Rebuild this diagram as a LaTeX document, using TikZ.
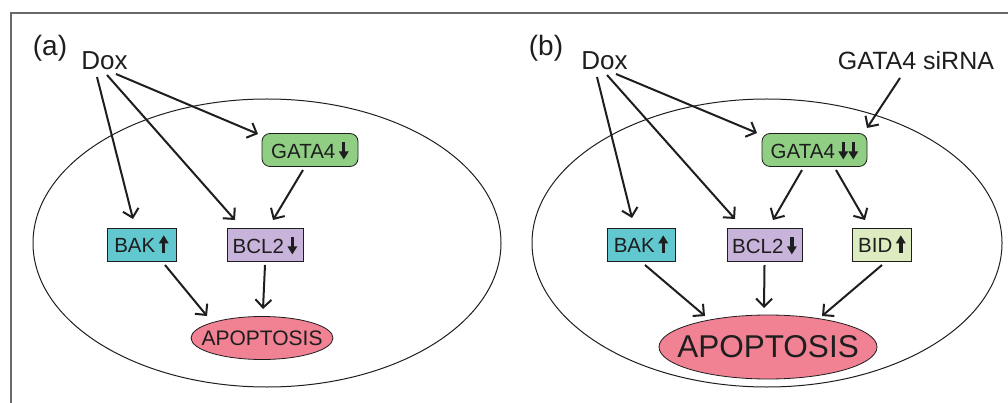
\documentclass[tikz,border=0pt]{standalone}
\usepackage{fontspec}
\setmainfont{Liberation Sans}
\usetikzlibrary{arrows.meta,shapes.geometric}
\definecolor{gatagreen}{RGB}{144,206,132}
\definecolor{bakcyan}{RGB}{98,200,208}
\definecolor{bcllav}{RGB}{200,180,218}
\definecolor{bidgreen}{RGB}{220,236,192}
\definecolor{apopink}{RGB}{240,130,148}
\definecolor{framegray}{RGB}{105,105,105}
\definecolor{ink}{RGB}{30,30,30}
\newcommand\myup{\tikz[baseline=0pt,x=1pt,y=1pt,sharp corners]{\draw[line width=3.4pt,ink] (0,-0.5)--(0,10);\fill[ink] (-5,9)--(5,9)--(0,17)--cycle;}}
\newcommand\mydn{\tikz[baseline=0pt,x=1pt,y=1pt,sharp corners]{\draw[line width=3.4pt,ink] (0,16.5)--(0,6);\fill[ink] (-5,7.5)--(5,7.5)--(0,-0.5)--cycle;}}
\tikzset{
  box/.style={draw=ink,line width=0.8pt,minimum height=33pt,inner sep=0pt,font=\fontsize{20.5}{24}\selectfont,text=ink},
  gbox/.style={box,fill=gatagreen,rounded corners=8pt},
  apo/.style={ellipse,draw=ink,line width=0.8pt,fill=apopink,inner sep=0pt},
  lab/.style={inner sep=0pt,text=ink},
  arr/.style={draw=ink,line width=2pt,-{Straight Barb[length=8pt,width=16pt,line width=2pt]}},
  cell/.style={draw=ink,line width=1pt}
}
\begin{document}
\begin{tikzpicture}[x=1pt,y=-1pt]
\useasboundingbox (0,0) rectangle (1008,403);
\draw[framegray,line width=2pt] (11,420) -- (11,13) -- (1020,13);
% ---------- (a)
\draw[cell] (267,243) ellipse [x radius=234, y radius=144];
\node[lab,font=\fontsize{28}{30}\selectfont] (la) at (50,48) {(a)};
\node[lab,font=\fontsize{26}{28}\selectfont] (doxa) at (104.5,61) {Dox};
\node[gbox,minimum width=96pt] (gataa) at (310,150) {GATA4\,\mydn};
\node[box,fill=bakcyan,minimum width=69pt] (baka) at (141.5,245) {BAK\,\myup};
\node[box,fill=bcllav,minimum width=76pt] (bcla) at (265,245) {BCL2\,\mydn};
\node[apo,minimum width=142pt,minimum height=43pt,label={[text=ink,inner sep=0pt,font=\fontsize{21}{24}\selectfont]center:APOPTOSIS}] (apoa) at (262,338) {};
\draw[arr] ([xshift=-7.5pt,yshift=-16pt]doxa.center) -- ([xshift=-8.5pt,yshift=26pt]baka.center);
\draw[arr] ([xshift=2.5pt,yshift=-14pt]doxa.center) -- ([xshift=-30pt,yshift=25pt]bcla.center);
\draw[arr] ([xshift=11.5pt,yshift=-13pt]doxa.center) -- ([xshift=-52pt,yshift=16pt]gataa.center);
\draw[arr] ([xshift=-7pt,yshift=-20pt]gataa.center) -- ([xshift=8pt,yshift=25pt]bcla.center);
\draw[arr] ([xshift=23.5pt,yshift=-20pt]baka.center) -- ([xshift=-55pt,yshift=22pt]apoa.center);
\draw[arr] ([yshift=-20pt]bcla.center) -- ([xshift=1pt,yshift=29pt]apoa.center);
% ---------- (b)
\draw[cell] (767,243) ellipse [x radius=235, y radius=144];
\node[lab,font=\fontsize{28}{30}\selectfont] (lb) at (546,48) {(b)};
\node[lab,font=\fontsize{26}{28}\selectfont] (doxb) at (604.5,61) {Dox};
\node[lab,font=\fontsize{25}{28}\selectfont] (sirna) at (916,61) {GATA4 siRNA};
\node[gbox,minimum width=105pt] (gatab) at (814.5,150) {GATA4\,\mydn\mydn};
\node[box,fill=bakcyan,minimum width=68pt] (bakb) at (641,245) {BAK\,\myup};
\node[box,fill=bcllav,minimum width=75pt] (bclb) at (764.5,245) {BCL2\,\mydn};
\node[box,fill=bidgreen,minimum width=59pt] (bidb) at (882,245) {BID\,\myup};
\node[apo,minimum width=218pt,minimum height=64pt,label={[text=ink,inner sep=0pt,font=\fontsize{31.5}{34}\selectfont]center:APOPTOSIS}] (apob) at (768,347) {};
\draw[arr] ([xshift=-7.5pt,yshift=-16pt]doxb.center) -- ([xshift=-9pt,yshift=27pt]bakb.center);
\draw[arr] ([xshift=2.5pt,yshift=-14pt]doxb.center) -- ([xshift=-29.5pt,yshift=26pt]bclb.center);
\draw[arr] ([xshift=11.5pt,yshift=-13pt]doxb.center) -- ([xshift=-57.5pt,yshift=17pt]gatab.center);
\draw[arr] ([xshift=-16pt,yshift=-17pt]sirna.center) -- ([xshift=52.5pt,yshift=22pt]gatab.center);
\draw[arr] ([xshift=-12.5pt,yshift=-20pt]gatab.center) -- ([xshift=8.5pt,yshift=25pt]bclb.center);
\draw[arr] ([xshift=21.5pt,yshift=-20pt]gatab.center) -- ([xshift=-17pt,yshift=25pt]bidb.center);
\draw[arr] ([xshift=4pt,yshift=-20pt]bakb.center) -- ([xshift=-63pt,yshift=31pt]apob.center);
\draw[arr] ([yshift=-20pt]bclb.center) -- ([xshift=-4pt,yshift=39pt]apob.center);
\draw[arr] ([yshift=-20pt]bidb.center) -- ([xshift=54pt,yshift=31pt]apob.center);
\end{tikzpicture}
\end{document}
